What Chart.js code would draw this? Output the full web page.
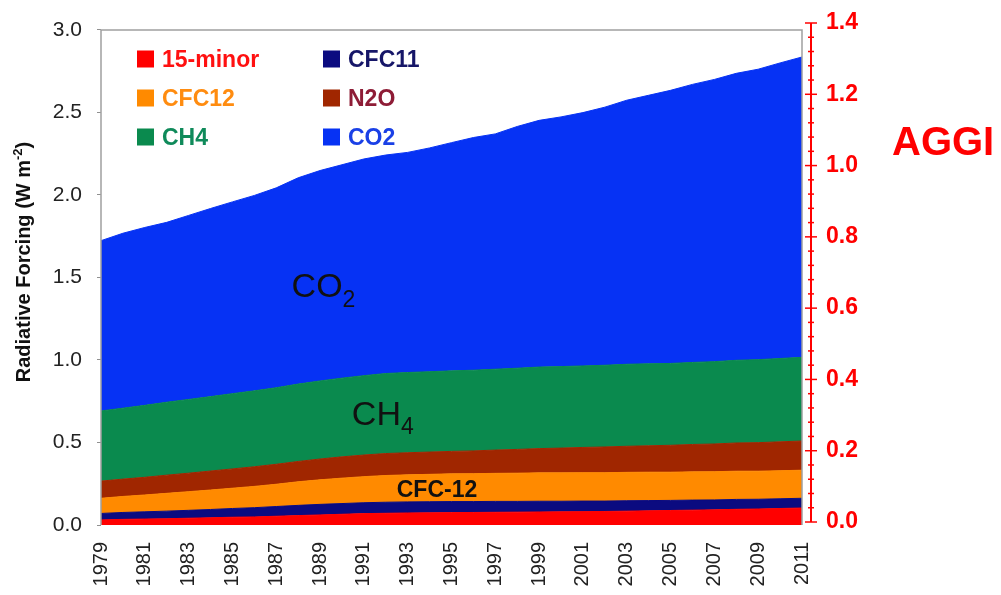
<!DOCTYPE html>
<html>
<head>
<meta charset="utf-8">
<title>Radiative Forcing / AGGI</title>
<script src="https://cdn.jsdelivr.net/npm/chart.js@4"></script>
<style>
  body { margin: 0; background: #fff; }
  #wrap { width: 1001px; height: 595px; }
</style>
</head>
<body>
<div id="wrap"><canvas id="forcingChart" width="1001" height="595"></canvas></div>
<script>
// years on the x axis
const years = ['1979','1980','1981','1982','1983','1984','1985','1986','1987','1988',
  '1989','1990','1991','1992','1993','1994','1995','1996','1997','1998',
  '1999','2000','2001','2002','2003','2004','2005','2006','2007','2008',
  '2009','2010','2011'];

// radiative forcing (W m-2), stacked bottom to top
const minor15 = [0.031,0.034,0.036,0.038,0.041,0.044,0.047,0.049,0.053,0.057,
  0.061,0.065,0.069,0.071,0.073,0.074,0.075,0.076,0.077,0.078,
  0.079,0.080,0.081,0.082,0.084,0.086,0.088,0.090,0.092,0.095,
  0.097,0.100,0.103];
const cfc11 = [0.039,0.042,0.044,0.046,0.048,0.050,0.053,0.056,0.059,0.062,
  0.064,0.065,0.066,0.067,0.067,0.067,0.067,0.066,0.066,0.065,
  0.065,0.064,0.064,0.063,0.063,0.062,0.061,0.061,0.060,0.060,
  0.059,0.059,0.059];
const cfc12 = [0.092,0.097,0.102,0.108,0.113,0.118,0.123,0.129,0.135,0.143,
  0.149,0.154,0.158,0.162,0.164,0.166,0.168,0.169,0.170,0.171,
  0.172,0.172,0.172,0.172,0.172,0.172,0.171,0.171,0.171,0.171,
  0.170,0.170,0.170];
const n2o = [0.104,0.105,0.107,0.110,0.112,0.115,0.117,0.119,0.121,0.123,
  0.126,0.129,0.131,0.133,0.134,0.135,0.136,0.138,0.141,0.144,
  0.147,0.150,0.153,0.156,0.158,0.160,0.163,0.166,0.168,0.171,
  0.173,0.175,0.177];
const ch4 = [0.425,0.430,0.436,0.442,0.447,0.451,0.456,0.460,0.464,0.469,
  0.473,0.477,0.481,0.485,0.486,0.487,0.488,0.489,0.490,0.492,
  0.494,0.494,0.494,0.495,0.497,0.497,0.496,0.497,0.499,0.501,
  0.503,0.505,0.507];
const co2 = [1.032,1.060,1.078,1.090,1.115,1.140,1.162,1.184,1.211,1.250,
  1.275,1.293,1.313,1.324,1.334,1.356,1.383,1.410,1.426,1.465,
  1.495,1.513,1.535,1.564,1.600,1.627,1.655,1.685,1.710,1.739,
  1.760,1.791,1.820];

const seriesNames = ['15-minor', 'CFC11', 'CFC12', 'N2O', 'CH4', 'CO2'];
const seriesData = [minor15, cfc11, cfc12, n2o, ch4, co2];
const fillColors = ['#ff0000', '#0b0b80', '#ff8a00', '#a02600', '#0a8a4e', '#0632f4'];
const legendText = ['#ff1010', '#161668', '#ff8c10', '#8e1c36', '#0f8a5a', '#1a40e6'];

// tick labels
const rfTicks = [0, 0.5, 1.0, 1.5, 2.0, 2.5, 3.0];
const aggiTicks = [0, 0.2, 0.4, 0.6, 0.8, 1.0, 1.2, 1.4];

const FONT = "'Liberation Sans', Arial, sans-serif";

// no extra label padding, so the plot area sits where the layout says
function noPad(scale) {
  scale.paddingTop = 0;
  scale.paddingBottom = 0;
  scale.paddingLeft = 0;
  scale.paddingRight = 0;
}

const extras = {
  id: 'extras',
  beforeDraw(chart) {
    const ctx = chart.ctx;
    ctx.save();
    ctx.fillStyle = '#fff';
    ctx.fillRect(0, 0, chart.width, chart.height);
    ctx.restore();
  },
  afterDatasetsDraw(chart) {
    const { ctx, chartArea, scales } = chart;
    const y = scales.y, y1 = scales.y1, x = scales.x;
    const top = y.getPixelForValue(3.0);
    ctx.save();

    // plot frame
    ctx.strokeStyle = '#a0a0a0';
    ctx.lineWidth = 1.5;
    ctx.beginPath();
    ctx.moveTo(chartArea.left, chartArea.bottom);
    ctx.lineTo(chartArea.left, top);
    ctx.lineTo(chartArea.right, top);
    ctx.lineTo(chartArea.right, chartArea.bottom);
    ctx.stroke();

    // right AGGI axis line with major and minor ticks
    const ax = chartArea.right + 9;
    ctx.strokeStyle = '#ff0000';
    ctx.lineWidth = 2;
    ctx.beginPath();
    ctx.moveTo(ax, y1.getPixelForValue(0));
    ctx.lineTo(ax, y1.getPixelForValue(1.4));
    ctx.stroke();
    ctx.lineWidth = 1.5;
    for (let k = 0; k <= 35; k++) {
      const py = y1.getPixelForValue(k * 0.04);
      const len = k % 5 === 0 ? 6 : 3;
      ctx.beginPath();
      ctx.moveTo(ax - len, py);
      ctx.lineTo(ax + len, py);
      ctx.stroke();
    }

    // legend, 2 columns x 3 rows
    const colX = [137, 323];
    const rowY = [59, 98, 137];
    ctx.font = 'bold 23px ' + FONT;
    ctx.textBaseline = 'alphabetic';
    seriesNames.forEach((name, i) => {
      const cx = colX[i % 2], cy = rowY[Math.floor(i / 2)];
      ctx.fillStyle = fillColors[i];
      ctx.fillRect(cx, cy - 8.5, 17, 17);
      ctx.fillStyle = legendText[i];
      ctx.fillText(name, cx + 25, cy + 8);
    });

    // labels inside the areas
    ctx.fillStyle = '#111';
    ctx.font = '34px ' + FONT;
    const co2x = x.getPixelForValue(8.7), co2y = y.getPixelForValue(1.38);
    ctx.fillText('CO', co2x, co2y);
    let w = ctx.measureText('CO').width;
    ctx.font = '23px ' + FONT;
    ctx.fillText('2', co2x + w, co2y + 10);

    ctx.font = '34px ' + FONT;
    const ch4x = x.getPixelForValue(11.45), ch4y = y.getPixelForValue(0.605);
    ctx.fillText('CH', ch4x, ch4y);
    w = ctx.measureText('CH').width;
    ctx.font = '23px ' + FONT;
    ctx.fillText('4', ch4x + w, ch4y + 9);

    ctx.font = 'bold 23px ' + FONT;
    ctx.fillText('CFC-12', x.getPixelForValue(13.5), y.getPixelForValue(0.17));

    // left axis title with superscript
    ctx.save();
    ctx.translate(30, 262);
    ctx.rotate(-Math.PI / 2);
    ctx.fillStyle = '#111';
    const main = 'Radiative Forcing (W m';
    ctx.font = 'bold 20px ' + FONT;
    const w1 = ctx.measureText(main).width;
    ctx.font = 'bold 13px ' + FONT;
    const w2 = ctx.measureText('-2').width;
    ctx.font = 'bold 20px ' + FONT;
    const w3 = ctx.measureText(')').width;
    let sx = -(w1 + w2 + w3) / 2;
    ctx.fillText(main, sx, 0);
    ctx.font = 'bold 13px ' + FONT;
    ctx.fillText('-2', sx + w1, -8);
    ctx.font = 'bold 20px ' + FONT;
    ctx.fillText(')', sx + w1 + w2, 0);
    ctx.restore();

    // AGGI title
    ctx.fillStyle = '#ff0000';
    ctx.font = 'bold 40px ' + FONT;
    ctx.fillText('AGGI', 892, 155);

    ctx.restore();
  }
};

document.addEventListener('DOMContentLoaded', function() {
  const ctx = document.getElementById('forcingChart');

  const datasets = seriesNames.map((name, i) => ({
    label: name,
    data: seriesData[i],
    backgroundColor: fillColors[i],
    borderColor: fillColors[i],
    borderWidth: 1,
    pointRadius: 0,
    tension: 0,
    fill: i === 0 ? 'origin' : '-1',
    yAxisID: 'y'
  }));

  new Chart(ctx, {
    type: 'line',
    data: { labels: years, datasets: datasets },
    options: {
      responsive: false,
      animation: false,
      events: [],
      layout: { padding: { top: 23, left: 0, right: 0, bottom: 0 } },
      plugins: {
        legend: { display: false },
        tooltip: { enabled: false }
      },
      scales: {
        x: {
          type: 'category',
          offset: false,
          grid: { display: false, drawTicks: false },
          border: { display: false },
          ticks: {
            autoSkip: false,
            minRotation: 90,
            maxRotation: 90,
            padding: 17,
            color: '#222',
            font: { family: FONT, size: 20 },
            callback: function(val, idx) {
              return idx % 2 === 0 ? this.getLabelForValue(val) : '';
            }
          },
          afterFit: (scale) => { scale.height = 70; noPad(scale); }
        },
        y: {
          position: 'left',
          stacked: true,
          min: 0,
          max: 3.042,
          grid: { display: true, drawOnChartArea: false, drawTicks: true, tickLength: 4, color: '#909090' },
          border: { display: false },
          afterBuildTicks: (scale) => { scale.ticks = rfTicks.map(v => ({ value: v })); },
          ticks: {
            padding: 15,
            color: '#222',
            font: { family: FONT, size: 21 },
            callback: (v) => Number(v).toFixed(1)
          },
          afterFit: (scale) => { scale.width = 101; noPad(scale); }
        },
        y1: {
          position: 'right',
          min: -0.0084,
          max: 1.4,
          grid: { display: false, drawTicks: false },
          border: { display: false },
          afterBuildTicks: (scale) => { scale.ticks = aggiTicks.map(v => ({ value: v })); },
          ticks: {
            padding: 24,
            color: '#ff0000',
            font: { family: FONT, size: 23, weight: 'bold' },
            callback: (v) => Number(v).toFixed(1)
          },
          afterFit: (scale) => { scale.width = 199; noPad(scale); }
        }
      }
    },
    plugins: [extras]
  });
});
</script>
</body>
</html>
